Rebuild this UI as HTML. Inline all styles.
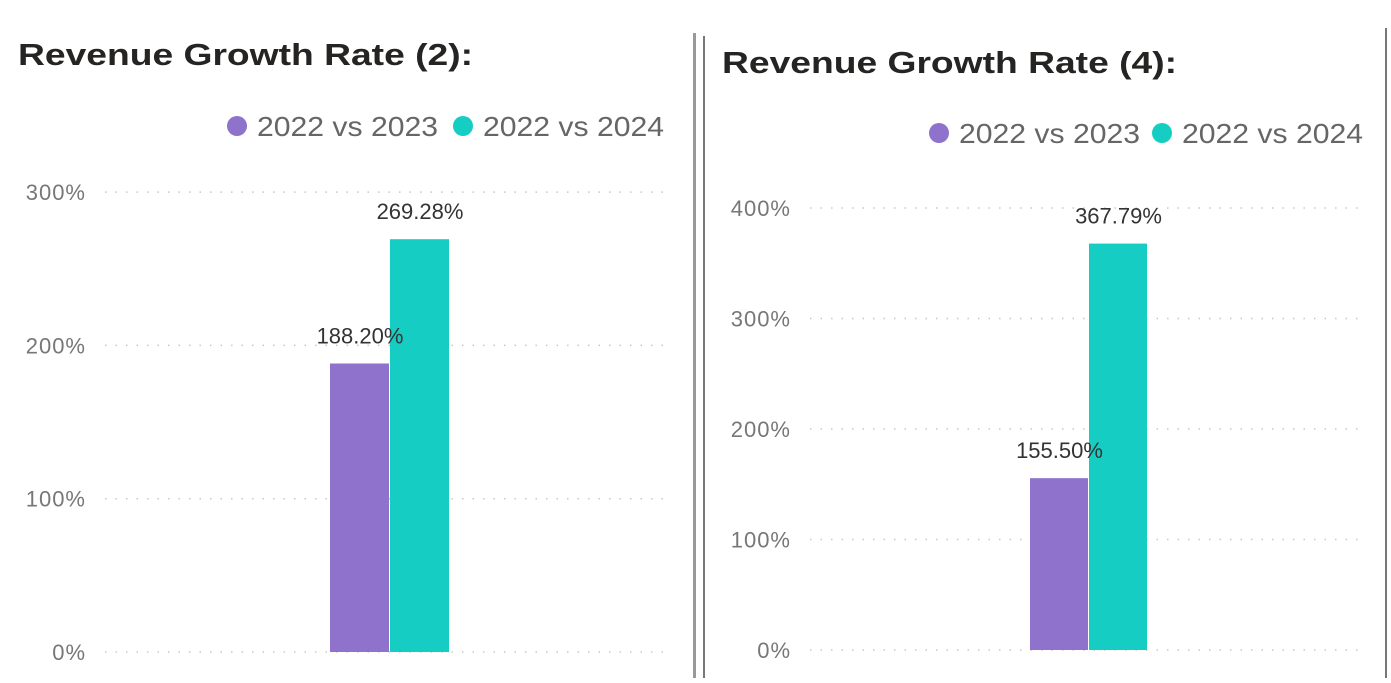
<!DOCTYPE html>
<html><head><style>
body{margin:0;width:1391px;height:678px;background:#fff;overflow:hidden;font-family:"Liberation Sans",sans-serif}
</style></head><body>
<svg width="1391" height="678">
<rect x="0" y="33" width="692" height="650" fill="#fff"/>
<line x1="694.5" y1="33" x2="694.5" y2="678" stroke="#999" stroke-width="3"/>
<path d="M704 36 L704 678 M1386 28 L1386 678" stroke="#777" stroke-width="2" fill="none"/>
<g id="charts"></g>
</svg>
<script>
const categories=["2022 vs 2023","2022 vs 2024"];
const leftValues=[188.20,269.28];
const rightValues=[155.50,367.79];
const leftTicks=[0,100,200,300];
const rightTicks=[0,100,200,300,400];
const colors=["#8e72cc","#15cdc2"];
const NS="http://www.w3.org/2000/svg";
const root=document.getElementById('charts');
function mk(tag,attrs,parent,text){const e=document.createElementNS(NS,tag);for(const k in attrs)e.setAttribute(k,attrs[k]);if(text!==undefined)e.textContent=text;parent.appendChild(e);return e;}
function chart(cfg,values,ticks,title){
  const g=mk('g',{},root);
  
  
  const y=v=>cfg.y0-v*cfg.k;
  const t=mk('text',{x:cfg.tx,y:cfg.ty,'font-size':31,'font-weight':'bold',fill:'#252423',textLength:455,lengthAdjust:'spacingAndGlyphs'},g,title);
  
  
  let lx=cfg.lx;
  categories.forEach((c,i)=>{
    const c1=mk('circle',{cx:lx+10,cy:cfg.ly-10,r:10,fill:colors[i]},g);
    
    
    const lt=mk('text',{x:lx+30,y:cfg.ly,'font-size':28,fill:'#666',textLength:181,lengthAdjust:'spacingAndGlyphs'},g,c);
    
    
    lx+=cfg.lstep;
  });
  ticks.forEach(v=>{
    const ln=mk('line',{x1:cfg.gx1,x2:cfg.gx2,y1:y(v),y2:y(v),stroke:'#c8c8c8','stroke-width':1.5,'stroke-dasharray':'1.5 9'},g);
    
    
    const tl=mk('text',{x:cfg.axX,y:y(v)+8,'font-size':22,fill:'#777','text-anchor':'end','letter-spacing':'1'},g,v+'%');
    
    
  });
  values.forEach((v,i)=>{
    const x=cfg.bx+i*cfg.bw;
    const b=mk('rect',{x:x,y:y(v),width:cfg.bw-1,height:v*cfg.k,fill:colors[i]},g);
    
    
  });
  values.forEach((v,i)=>{
    const x=cfg.bx+i*cfg.bw;
    const vl=mk('text',{x:x+cfg.bw/2,y:y(v)-20,'font-size':22,fill:'#333','text-anchor':'middle'},g,v.toFixed(2)+'%');
    
    
  });
}
chart({name:'left-chart',y0:652,k:1.533,tx:18,ty:65,lx:227,ly:136,lstep:226,gx1:105,gx2:672,axX:86,bx:330,bw:60},leftValues,leftTicks,'Revenue Growth Rate (2):');
chart({name:'right-chart',y0:650,k:1.105,tx:722,ty:73,lx:929,ly:143,lstep:223,gx1:810,gx2:1366,axX:791,bx:1030,bw:59},rightValues,rightTicks,'Revenue Growth Rate (4):');
</script>
</body></html>
